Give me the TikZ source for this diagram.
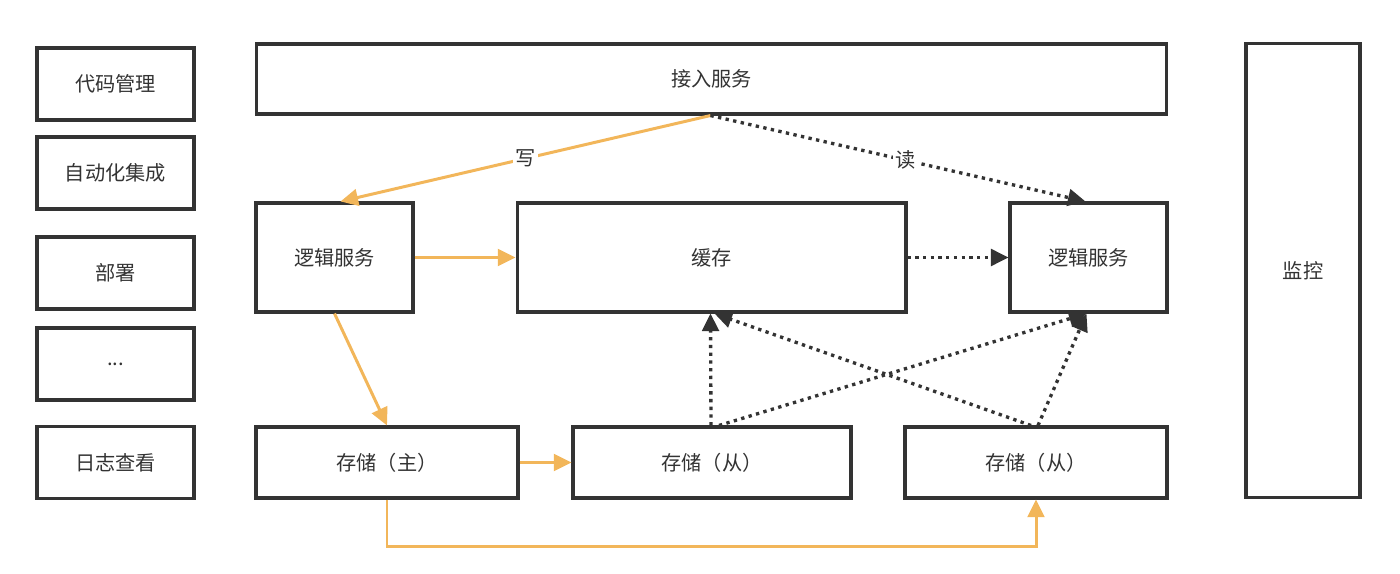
\documentclass[tikz,border=0pt]{standalone}
\usepackage{fontspec}
\setmainfont{Noto Sans CJK SC}
\usetikzlibrary{arrows.meta,calc}
\definecolor{ink}{HTML}{333333}
\definecolor{org}{HTML}{F2B65A}
\begin{document}
\begin{tikzpicture}[x=0.02cm,y=-0.02cm,
  box/.style={draw=ink, line width=1.75pt, rectangle, inner sep=0pt, text=ink, font=\fontsize{11.5}{13}\selectfont},
  side/.style={box, minimum width=3.14cm, minimum height=1.44cm},
  wr/.style={draw=org, line width=1.7pt, -{Triangle[length=10pt,width=9.5pt]}},
  rd/.style={draw=ink, line width=1.9pt, dash pattern=on 1.9pt off 2.5pt, -{Triangle[length=10pt,width=9.5pt]}},
  lbl/.style={fill=white, inner sep=1.5pt, text=ink, font=\fontsize{11.5}{13}\selectfont}]
\useasboundingbox (0,0) rectangle (1400,574);
% left column
\node[side] (c1) at (115.5,84) {代码管理};
\node[side] (c2) at (115.5,173) {自动化集成};
\node[side] (c3) at (115.5,273) {部署};
\node[side] (c4) at (115.5,364) {...};
\node[side] (c5) at (115.5,462.5) {日志查看};
% main
\node[box, minimum width=18.22cm, minimum height=1.4cm] (top) at (711.5,79) {接入服务};
\node[box, minimum width=3.14cm, minimum height=2.18cm] (L1) at (334.5,257.5) {逻辑服务};
\node[box, minimum width=7.78cm, minimum height=2.18cm] (cache) at (711.5,257.5) {缓存};
\node[box, minimum width=3.14cm, minimum height=2.18cm] (L2) at (1088.5,257.5) {逻辑服务};
\node[box, minimum width=5.24cm, minimum height=1.42cm] (S0) at (387,462.5) {存储（主）};
\node[box, minimum width=5.56cm, minimum height=1.42cm] (S1) at (712,462.5) {存储（从）};
\node[box, minimum width=5.24cm, minimum height=1.42cm] (S2) at (1036,462.5) {存储（从）};
\node[box, minimum width=2.28cm, minimum height=9.1cm] (mon) at (1303,270.5) {监控};
% connectors
\draw[wr] ($(top.south)+(-1,0)$) -- node[lbl]{写} ($(L1.north)+(6,0)$);
\draw[rd] ($(top.south)+(-1,0)$) -- node[lbl, pos=0.52]{读} ($(L2.north)+(-3,0)$);
\draw[wr] (L1.east) -- (cache.west);
\draw[rd] (cache.east) -- (L2.west);
\draw[wr] (L1.south) -- (S0.north);
\draw[wr] (S0.east) -- (S1.west);
\draw[wr] (S0.south) -- ++(0,47) -| (S2.south);
\draw[rd] ($(S1.north)+(-1,0)$) -- ($(cache.south)+(-1,0)$);
\draw[rd] ($(S1.north)+(7,0)$) -- ($(L2.south)+(-2,0)$);
\draw[rd] ($(S2.north)+(-5,0)$) -- ($(cache.south)+(3,0)$);
\draw[rd] ($(S2.north)+(2,0)$) -- ($(L2.south)+(-2,0)$);
\end{tikzpicture}
\end{document}
